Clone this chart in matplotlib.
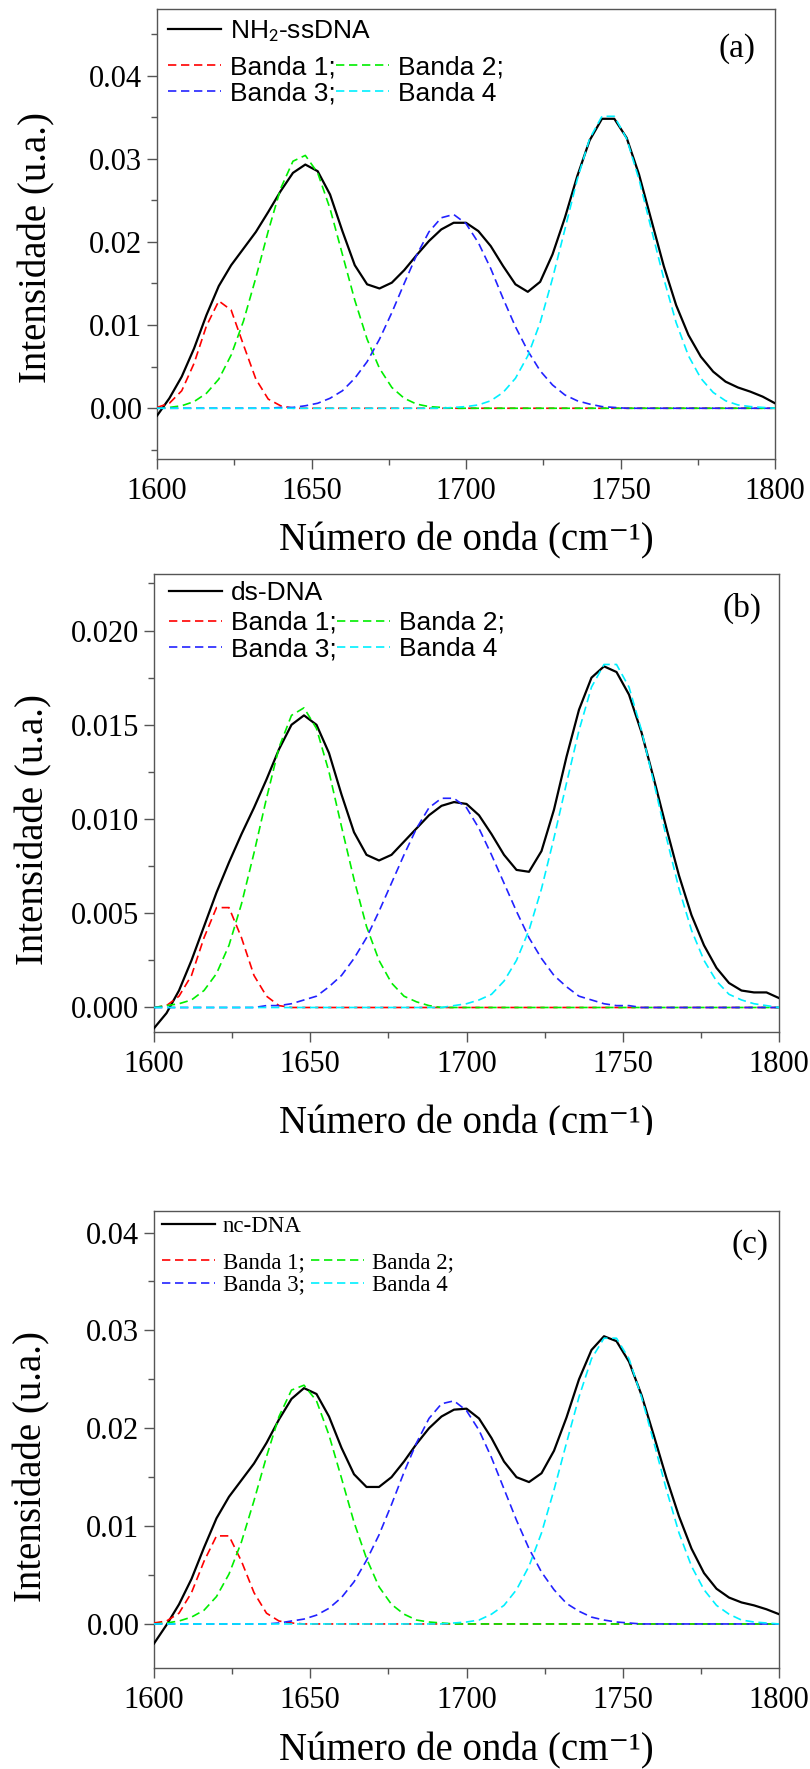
import matplotlib
matplotlib.use('Agg')
from matplotlib import pyplot as plt
from matplotlib.ticker import MultipleLocator, FormatStrFormatter
from matplotlib.font_manager import FontProperties
from matplotlib.patches import Rectangle

plt.rcParams['font.family'] = ['Liberation Serif', 'DejaVu Serif']
plt.rcParams['mathtext.fontset'] = 'stix'

# numero de onda (cm-1), um ponto a cada 4 cm-1
numeroOnda = list(range(1600, 1801, 4))

# (a) NH2-ssDNA
a_total = [-0.0009, 0.0012, 0.0038, 0.0072, 0.0112, 0.0147, 0.0172, 0.0192, 0.0212, 0.0236, 0.0261, 0.0283,
           0.0293, 0.0285, 0.0257, 0.0213, 0.0172, 0.0149, 0.0144, 0.0151, 0.0166, 0.0184, 0.0201, 0.0215,
           0.0223, 0.0223, 0.0213, 0.0195, 0.0171, 0.0149, 0.0140, 0.0152, 0.0185, 0.0229, 0.0279, 0.0322,
           0.0348, 0.0348, 0.0325, 0.0281, 0.0226, 0.0171, 0.0124, 0.0088, 0.0062, 0.0044, 0.0032, 0.0025,
           0.0020, 0.0014, 0.0006]
a_banda1 = [0.0001, 0.0006, 0.0021, 0.0054, 0.0099, 0.0129, 0.0118, 0.0076, 0.0035, 0.0011, 0.0003, 0,
            0, 0, 0, 0, 0, 0, 0, 0, 0, 0, 0, 0,
            0, 0, 0, 0, 0, 0, 0, 0, 0, 0, 0, 0,
            0, 0, 0, 0, 0, 0, 0, 0, 0, 0, 0, 0,
            0, 0, 0]
a_banda2 = [0, 0.0001, 0.0003, 0.0008, 0.0018, 0.0035, 0.0064, 0.0105, 0.0157, 0.0213, 0.0264, 0.0297,
            0.0304, 0.0283, 0.0240, 0.0185, 0.0130, 0.0083, 0.0048, 0.0025, 0.0012, 0.0005, 0.0002, 0.0001,
            0, 0, 0, 0, 0, 0, 0, 0, 0, 0, 0, 0,
            0, 0, 0, 0, 0, 0, 0, 0, 0, 0, 0, 0,
            0, 0, 0]
a_banda3 = [0, 0, 0, 0, 0, 0, 0, 0, 0, 0, 0.0001, 0.0001,
            0.0003, 0.0006, 0.0012, 0.0021, 0.0036, 0.0056, 0.0083, 0.0115, 0.0150, 0.0184, 0.0212, 0.0229,
            0.0233, 0.0222, 0.0199, 0.0168, 0.0132, 0.0098, 0.0069, 0.0045, 0.0028, 0.0016, 0.0009, 0.0005,
            0.0002, 0.0001, 0, 0, 0, 0, 0, 0, 0, 0, 0, 0,
            0, 0, 0]
a_banda4 = [0, 0, 0, 0, 0, 0, 0, 0, 0, 0, 0, 0,
            0, 0, 0, 0, 0, 0, 0, 0, 0, 0, 0, 0,
            0.0001, 0.0002, 0.0004, 0.0009, 0.0019, 0.0036, 0.0063, 0.0103, 0.0156, 0.0215, 0.0275, 0.0324,
            0.0351, 0.0351, 0.0324, 0.0275, 0.0215, 0.0156, 0.0103, 0.0063, 0.0036, 0.0019, 0.0009, 0.0004,
            0.0002, 0.0001, 0]

# (b) ds-DNA
b_total = [-0.0011, -0.0003, 0.0009, 0.0025, 0.0043, 0.0061, 0.0077, 0.0092, 0.0106, 0.0121, 0.0137, 0.0150,
           0.0155, 0.0150, 0.0135, 0.0113, 0.0093, 0.0081, 0.0078, 0.0081, 0.0088, 0.0095, 0.0102, 0.0107,
           0.0109, 0.0108, 0.0102, 0.0092, 0.0081, 0.0073, 0.0072, 0.0083, 0.0105, 0.0133, 0.0158, 0.0175,
           0.0181, 0.0178, 0.0166, 0.0146, 0.0121, 0.0095, 0.0070, 0.0049, 0.0033, 0.0021, 0.0013, 0.0009,
           0.0008, 0.0008, 0.0005]
b_banda1 = [0, 0.0001, 0.0006, 0.0017, 0.0037, 0.0053, 0.0053, 0.0037, 0.0017, 0.0006, 0.0001, 0,
            0, 0, 0, 0, 0, 0, 0, 0, 0, 0, 0, 0,
            0, 0, 0, 0, 0, 0, 0, 0, 0, 0, 0, 0,
            0, 0, 0, 0, 0, 0, 0, 0, 0, 0, 0, 0,
            0, 0, 0]
b_banda2 = [0, 0.0001, 0.0002, 0.0004, 0.0009, 0.0018, 0.0033, 0.0055, 0.0082, 0.0111, 0.0138, 0.0155,
            0.0159, 0.0148, 0.0125, 0.0096, 0.0068, 0.0043, 0.0025, 0.0013, 0.0006, 0.0003, 0.0001, 0,
            0, 0, 0, 0, 0, 0, 0, 0, 0, 0, 0, 0,
            0, 0, 0, 0, 0, 0, 0, 0, 0, 0, 0, 0,
            0, 0, 0]
b_banda3 = [0, 0, 0, 0, 0, 0, 0, 0, 0, 0.0001, 0.0001, 0.0002,
            0.0004, 0.0006, 0.0011, 0.0017, 0.0026, 0.0037, 0.0051, 0.0066, 0.0081, 0.0095, 0.0106, 0.0111,
            0.0111, 0.0106, 0.0095, 0.0081, 0.0066, 0.0051, 0.0037, 0.0026, 0.0017, 0.0011, 0.0006, 0.0004,
            0.0002, 0.0001, 0.0001, 0, 0, 0, 0, 0, 0, 0, 0, 0,
            0, 0, 0]
b_banda4 = [0, 0, 0, 0, 0, 0, 0, 0, 0, 0, 0, 0,
            0, 0, 0, 0, 0, 0, 0, 0, 0, 0, 0, 0,
            0.0001, 0.0002, 0.0004, 0.0007, 0.0014, 0.0025, 0.0041, 0.0063, 0.0090, 0.0119, 0.0147, 0.0170,
            0.0182, 0.0182, 0.0170, 0.0147, 0.0119, 0.0090, 0.0063, 0.0041, 0.0025, 0.0014, 0.0007, 0.0004,
            0.0002, 0.0001, 0]

# (c) nc-DNA
c_total = [-0.0020, -0.0001, 0.0020, 0.0046, 0.0078, 0.0108, 0.0130, 0.0147, 0.0164, 0.0185, 0.0209, 0.0230,
           0.0241, 0.0235, 0.0212, 0.0180, 0.0153, 0.0140, 0.0140, 0.0150, 0.0166, 0.0184, 0.0200, 0.0212,
           0.0219, 0.0220, 0.0210, 0.0190, 0.0166, 0.0150, 0.0145, 0.0154, 0.0177, 0.0211, 0.0250, 0.0280,
           0.0294, 0.0289, 0.0268, 0.0234, 0.0192, 0.0149, 0.0110, 0.0077, 0.0052, 0.0036, 0.0027, 0.0022,
           0.0019, 0.0015, 0.0010]
c_banda1 = [0.0001, 0.0003, 0.0011, 0.0032, 0.0064, 0.0090, 0.0090, 0.0064, 0.0032, 0.0011, 0.0003, 0.0001,
            0, 0, 0, 0, 0, 0, 0, 0, 0, 0, 0, 0,
            0, 0, 0, 0, 0, 0, 0, 0, 0, 0, 0, 0,
            0, 0, 0, 0, 0, 0, 0, 0, 0, 0, 0, 0,
            0, 0, 0]
c_banda2 = [0, 0.0001, 0.0003, 0.0007, 0.0014, 0.0028, 0.0051, 0.0084, 0.0126, 0.0171, 0.0212, 0.0239,
            0.0244, 0.0228, 0.0193, 0.0149, 0.0104, 0.0067, 0.0038, 0.0020, 0.0010, 0.0004, 0.0002, 0.0001,
            0, 0, 0, 0, 0, 0, 0, 0, 0, 0, 0, 0,
            0, 0, 0, 0, 0, 0, 0, 0, 0, 0, 0, 0,
            0, 0, 0]
c_banda3 = [0, 0, 0, 0, 0, 0, 0, 0, 0, 0, 0.0001, 0.0003,
            0.0005, 0.0009, 0.0016, 0.0027, 0.0043, 0.0065, 0.0091, 0.0122, 0.0155, 0.0185, 0.0210, 0.0225,
            0.0228, 0.0218, 0.0198, 0.0170, 0.0138, 0.0106, 0.0077, 0.0053, 0.0035, 0.0021, 0.0013, 0.0007,
            0.0004, 0.0002, 0.0001, 0, 0, 0, 0, 0, 0, 0, 0, 0,
            0, 0, 0]
c_banda4 = [0, 0, 0, 0, 0, 0, 0, 0, 0, 0, 0, 0,
            0, 0, 0, 0, 0, 0, 0, 0, 0, 0, 0, 0,
            0.0001, 0.0002, 0.0004, 0.0010, 0.0019, 0.0035, 0.0059, 0.0093, 0.0137, 0.0185, 0.0232, 0.0271,
            0.0292, 0.0292, 0.0271, 0.0232, 0.0185, 0.0137, 0.0093, 0.0059, 0.0035, 0.0019, 0.0010, 0.0004,
            0.0002, 0.0001, 0]

nomesBandas = ['Banda 1;', 'Banda 2;', 'Banda 3;', 'Banda 4']
coresBandas = ['#ff0000', '#00ee00', '#2222ff', '#00f0ff']

W, H = 810, 1769
fig = plt.figure(figsize=(W / 100, H / 100), dpi=100)
fig.patch.set_facecolor('white')


#pixel box (left, top, right, bottom) -> figure rect
def PixelRect(left, top, right, bottom):
    return [left / W, 1 - bottom / H, (right - left) / W, (bottom - top) / H]


def DrawPanel(box, total, bandas, nomeTotal, letra, ylim, yMajor, yMinor, yFmt,
              fonteLegenda, leg1Pos, leg2Pos, legPads, letraPos, xlabelY, ylabelPos):
    ax = fig.add_axes(PixelRect(*box))
    linhaTotal, = ax.plot(numeroOnda, total, color='black', lw=1.6, zorder=3)
    linhas = []
    for serie, cor in zip(bandas, coresBandas):
        ln, = ax.plot(numeroOnda, serie, color=cor, lw=1.2, dashes=(5, 2.8), zorder=4)
        linhas.append(ln)

    ax.set_xlim(1600, 1800)
    ax.set_ylim(*ylim)
    ax.xaxis.set_major_locator(MultipleLocator(50))
    ax.xaxis.set_minor_locator(MultipleLocator(25))
    ax.yaxis.set_major_locator(MultipleLocator(yMajor))
    ax.yaxis.set_minor_locator(MultipleLocator(yMinor))
    ax.yaxis.set_major_formatter(FormatStrFormatter(yFmt))

    for s in ax.spines.values():
        s.set_color('#555555')
        s.set_linewidth(1.0)
    ax.tick_params(which='both', direction='out', top=False, right=False, color='#555555', width=1.0)
    ax.tick_params(which='major', length=7, labelsize=22)
    ax.tick_params(which='minor', length=4)
    ax.tick_params(axis='x', pad=6)
    ax.tick_params(axis='y', pad=3.5)

    ax.set_xlabel('Número de onda (cm⁻¹)', fontsize=28)
    ax.xaxis.label.set_verticalalignment('baseline')
    ax.xaxis.set_label_coords(0.5, xlabelY)
    ax.set_ylabel('Intensidade (u.a.)', fontsize=28)
    ax.yaxis.set_label_coords(*ylabelPos)

    hl, htp, cs = legPads
    leg1 = ax.legend([linhaTotal], [nomeTotal], loc='center left', bbox_to_anchor=leg1Pos,
                     frameon=False, borderpad=0, borderaxespad=0, handlelength=hl,
                     handletextpad=htp, prop=fonteLegenda)
    ax.add_artist(leg1)
    ax.legend([linhas[0], linhas[2], linhas[1], linhas[3]],
              [nomesBandas[0], nomesBandas[2], nomesBandas[1], nomesBandas[3]],
              ncol=2, loc='center left', bbox_to_anchor=leg2Pos, frameon=False,
              borderpad=0, borderaxespad=0, handlelength=hl, handletextpad=htp,
              labelspacing=0.08, columnspacing=cs, prop=fonteLegenda)

    ax.text(letraPos[0], letraPos[1], letra, transform=ax.transAxes, ha='center', va='center', fontsize=24)
    return ax


sansLeg = FontProperties(family='Liberation Sans', size=19, math_fontfamily='stixsans')
serifLeg = FontProperties(family='Liberation Serif', size=16.5, math_fontfamily='stix')

DrawPanel((157, 9, 775, 459), a_total, [a_banda1, a_banda2, a_banda3, a_banda4],
          'NH$_2$-ssDNA', '(a)', (-0.0061, 0.048), 0.01, 0.005, '%.2f',
          sansLeg, (0.018, 0.951), (0.018, 0.841), (2.0, 0.35, 0.0), (0.9385, 0.913),
          -0.2022, (-0.165, 0.47))

DrawPanel((154, 574, 779, 1032), b_total, [b_banda1, b_banda2, b_banda3, b_banda4],
          'ds-DNA', '(b)', (-0.0013, 0.023), 0.005, 0.0025, '%.3f',
          sansLeg, (0.024, 0.9585), (0.024, 0.8646), (2.0, 0.35, 0.0), (0.941, 0.926),
          -0.2205, (-0.162, 0.442))

DrawPanel((154, 1211, 779, 1668), c_total, [c_banda1, c_banda2, c_banda3, c_banda4],
          'nc-DNA', '(c)', (-0.0045, 0.0422), 0.01, 0.005, '%.2f',
          serifLeg, (0.0125, 0.967), (0.0125, 0.863), (2.3, 0.35, 0.3), (0.954, 0.927),
          -0.2013, (-0.166, 0.441))

# the source image is cut just under the label of panel (b)
fig.add_artist(Rectangle((0, 1 - 1200 / H), 1, (1200 - 1135) / H, transform=fig.transFigure,
                         facecolor='white', edgecolor='none', zorder=10))

fig.savefig('out.png', dpi=100, facecolor='white')
